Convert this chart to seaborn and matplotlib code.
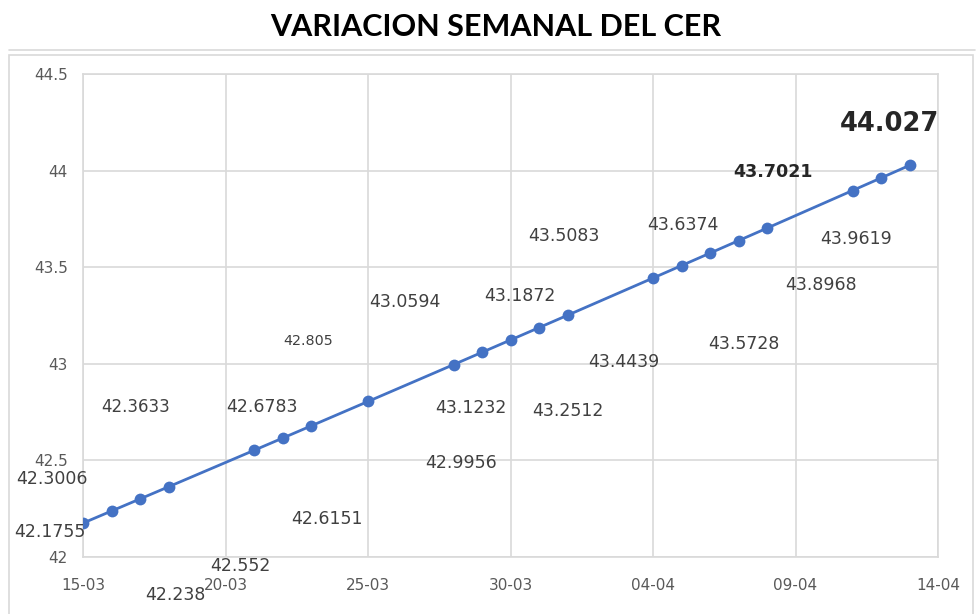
import matplotlib
matplotlib.use("Agg")
import matplotlib.pyplot as plt
import matplotlib.dates as mdates
from matplotlib.lines import Line2D
from matplotlib.patches import Rectangle
import seaborn as sns
import pandas as pd

# ---- data ----
dates = ["2023-03-15", "2023-03-16", "2023-03-17", "2023-03-18", "2023-03-21",
         "2023-03-22", "2023-03-23", "2023-03-25", "2023-03-28", "2023-03-29",
         "2023-03-30", "2023-03-31", "2023-04-01", "2023-04-04", "2023-04-05",
         "2023-04-06", "2023-04-07", "2023-04-08", "2023-04-11", "2023-04-12",
         "2023-04-13"]
values = [42.1755, 42.238, 42.3006, 42.3633, 42.552,
          42.6151, 42.6783, 42.805, 42.9956, 43.0594,
          43.1232, 43.1872, 43.2512, 43.4439, 43.5083,
          43.5728, 43.6374, 43.7021, 43.8968, 43.9619,
          44.027]
label_texts = ["42.1755", "42.238", "42.3006", "42.3633", "42.552",
               "42.6151", "42.6783", "42.805", "42.9956", "43.0594",
               "43.1232", "43.1872", "43.2512", "43.4439", "43.5083",
               "43.5728", "43.6374", "43.7021", "43.8968", "43.9619",
               "44.027"]
xtick_dates = ["2023-03-15", "2023-03-20", "2023-03-25", "2023-03-30",
               "2023-04-04", "2023-04-09", "2023-04-14"]
yticks = [42, 42.5, 43, 43.5, 44, 44.5]
title = "VARIACION SEMANAL DEL CER"

# ---- label placement (pixel offsets from each point: dx right, dy down) ----
label_offsets = [(-33, 9), (64, 84), (-88, -20), (-33, -80), (-14, 116),
                 (44, 81), (-49, -19), (-60, -60), (8, 98), (-77, -50),
                 (-40, 68), (-19, -32), (0, 96), (-29, 84), (-118, -30),
                 (34, 91), (-56, -16), (6, -56), (-32, 94), (-25, 61),
                 (-20, -41)]
label_sizes = [12.5] * 21
label_sizes[3] = 12
label_sizes[7] = 10.3
label_sizes[17] = 12.6
label_sizes[20] = 18.5
label_weights = ["normal"] * 21
label_weights[17] = "bold"
label_weights[20] = "bold"

df = pd.DataFrame({"fecha": pd.to_datetime(dates), "cer": values})

sns.set_style("white")
plt.rcParams["font.family"] = ["DejaVu Sans"]

W, H = 980, 614
fig = plt.figure(figsize=(W / 100, H / 100), dpi=100)
fig.patch.set_facecolor("white")

# outer spreadsheet-like frame
frame_color = "#d9d9d9"
fig.add_artist(Line2D([9 / W, 975 / W], [1 - 50 / H, 1 - 50 / H], color=frame_color, lw=1.2))
fig.add_artist(Rectangle((9 / W, -0.01), (973 - 9) / W, (1 - 55 / H) + 0.01,
                         fill=False, edgecolor=frame_color, lw=1.2))

ax = fig.add_axes([83 / W, 1 - 557 / H, (938 - 83) / W, (557 - 74) / H])

sns.lineplot(data=df, x="fecha", y="cer", ax=ax, color="#4472C4",
             linewidth=2.0, marker="o", markersize=8.5, markeredgewidth=0,
             zorder=3)

ax.set_xlim(pd.Timestamp(xtick_dates[0]), pd.Timestamp(xtick_dates[-1]))
ax.set_ylim(yticks[0], yticks[-1])
ax.set_xticks(pd.to_datetime(xtick_dates))
ax.xaxis.set_major_formatter(mdates.DateFormatter("%d-%m"))
ax.set_yticks(yticks)
ax.set_yticklabels([f"{v:g}" for v in yticks])
ax.grid(True, color="#d9d9d9", linewidth=1.2)
ax.set_axisbelow(True)
for s in ax.spines.values():
    s.set_color("#d9d9d9")
    s.set_linewidth(1.2)
ax.tick_params(axis="both", length=0, labelsize=11, labelcolor="#595959")
ax.tick_params(axis="x", pad=15)
ax.tick_params(axis="y", pad=11)
ax.set_xlabel("")
ax.set_ylabel("")

for (d, v, t, off, fs, fw) in zip(df["fecha"], df["cer"], label_texts,
                                    label_offsets, label_sizes, label_weights):
    ax.annotate(t, xy=(d, v), xytext=(off[0], -off[1]), textcoords="offset pixels",
                ha="center", va="center", fontsize=fs, fontweight=fw,
                color="#262626" if fw == "bold" else "#404040",
                annotation_clip=False, zorder=4)

fig.text(496 / W, 1 - 27 / H, title, ha="center", va="center",
         fontsize=22, fontweight="bold", family=["Lato", "DejaVu Sans"], color="black")

fig.savefig("out.png", dpi=100, facecolor="white")
